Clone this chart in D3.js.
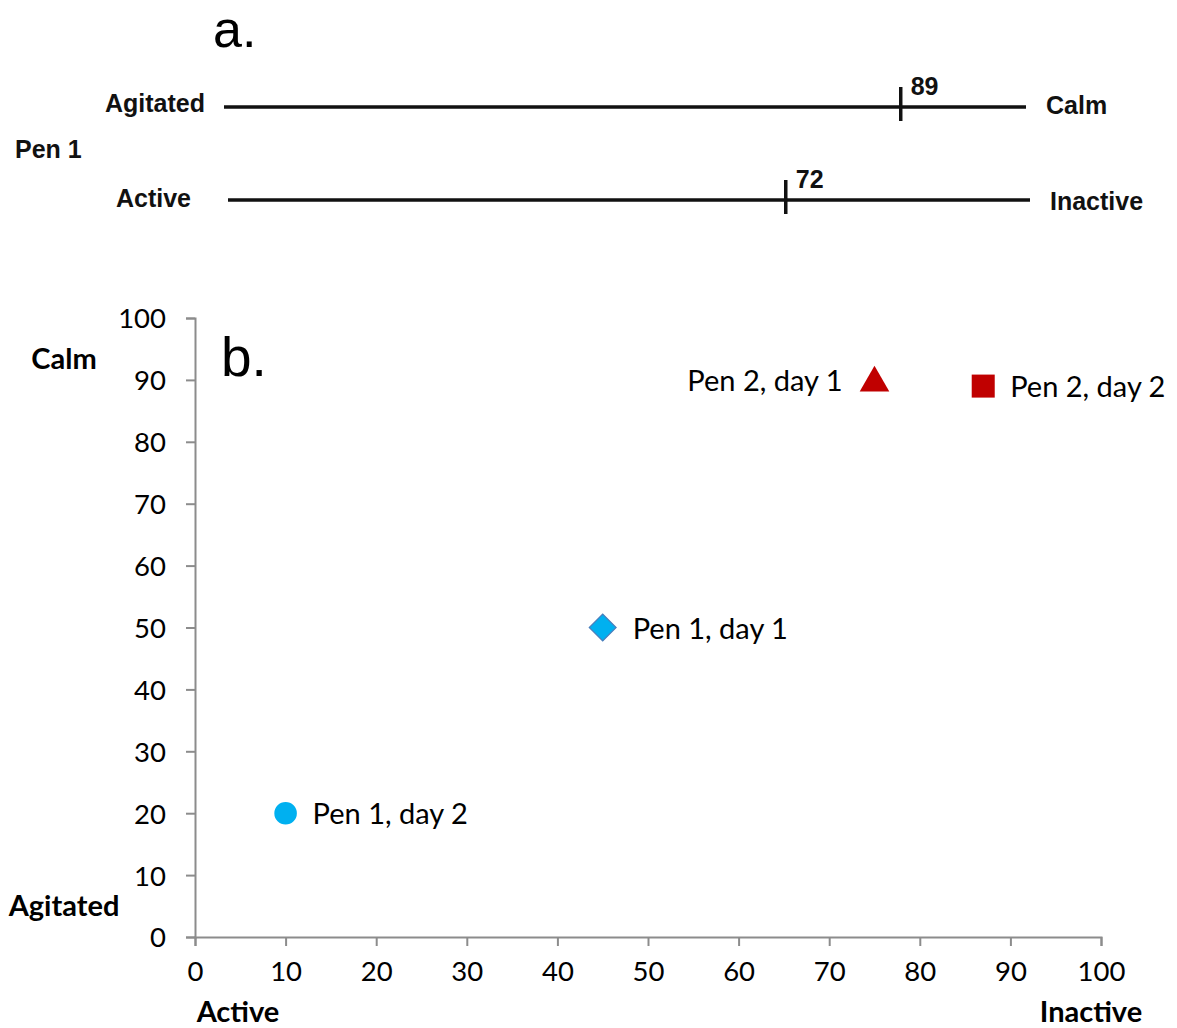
<!DOCTYPE html>
<html>
<head>
<meta charset="utf-8">
<script src="https://cdn.jsdelivr.net/npm/d3@7"></script>
<style>
  html, body { margin: 0; padding: 0; background: #fff; }
  svg { display: block; }
</style>
</head>
<body>
<svg id="chart" width="1177" height="1028"></svg>
<script>
// ---- Panel a data (visual analogue scales, Pen 1) ----
const vasScales = ["Agitated–Calm", "Active–Inactive"];
const vasLeftLabels = ["Agitated", "Active"];
const vasRightLabels = ["Calm", "Inactive"];
const vasValues = [89, 72];
const vasGroupLabel = "Pen 1";

// ---- Panel b data (scatter) ----
const pointNames = ["Pen 1, day 1", "Pen 1, day 2", "Pen 2, day 1", "Pen 2, day 2"];
const pointX = [45, 10, 75, 87];     // Active (0) -> Inactive (100)
const pointY = [50, 20, 90, 89];     // Agitated (0) -> Calm (100)
const pointShapes = ["diamond", "circle", "triangle", "square"];
const pointColors = ["#00B0F0", "#00B0F0", "#C00000", "#C00000"];
const labelSide = ["right", "right", "left", "right"];
const xTicks = [0, 10, 20, 30, 40, 50, 60, 70, 80, 90, 100];
const yTicks = [0, 10, 20, 30, 40, 50, 60, 70, 80, 90, 100];

const svg = d3.select("#chart");

// ================= Panel a =================
const aFont = "'Liberation Sans', Arial, sans-serif";
svg.append("text").attr("x", 213).attr("y", 47)
  .attr("font-family", aFont).attr("font-size", 52).attr("fill", "#000").text("a.");

const lineGeo = [
  { x0: 224, x1: 1026, y: 107 },
  { x0: 228, x1: 1030, y: 200 }
];
const aLabelY = [112, 207];
const aRightY = [114, 210];
const aLabelSize = 25;

svg.append("text").attr("x", 15).attr("y", 158)
  .attr("font-family", aFont).attr("font-weight", "bold").attr("font-size", aLabelSize)
  .attr("fill", "#111").text(vasGroupLabel);

vasScales.forEach((name, i) => {
  const g = lineGeo[i];
  // scale from value to position along the drawn line
  const s = d3.scaleLinear().domain([-7.7, 106.9]).range([g.x0, g.x1]);
  const gg = svg.append("g");
  gg.append("line").attr("x1", s(-7.7)).attr("x2", s(106.9))
    .attr("y1", g.y).attr("y2", g.y)
    .attr("stroke", "#111").attr("stroke-width", 3.5);
  const tx = s(vasValues[i]);
  gg.append("line").attr("x1", tx).attr("x2", tx)
    .attr("y1", g.y - 20).attr("y2", g.y + 14)
    .attr("stroke", "#111").attr("stroke-width", 3.5);
  gg.append("text").attr("x", tx + 10).attr("y", g.y - 12)
    .attr("font-family", aFont).attr("font-weight", "bold").attr("font-size", aLabelSize)
    .attr("fill", "#111").text(vasValues[i]);
  gg.append("text").attr("x", g.x0 - 19 - (i === 1 ? 18 : 0)).attr("y", aLabelY[i])
    .attr("text-anchor", "end")
    .attr("font-family", aFont).attr("font-weight", "bold").attr("font-size", aLabelSize)
    .attr("fill", "#111").text(vasLeftLabels[i]);
  gg.append("text").attr("x", g.x1 + 20).attr("y", aRightY[i])
    .attr("font-family", aFont).attr("font-weight", "bold").attr("font-size", aLabelSize)
    .attr("fill", "#111").text(vasRightLabels[i]);
});

// ================= Panel b =================
const bFont = "Lato, 'Open Sans', sans-serif";
const x = d3.scaleLinear().domain([0, 100]).range([195, 1101]);
const y = d3.scaleLinear().domain([0, 100]).range([937, 318]);
const axisColor = "#8c8c8c";

const xAxis = svg.append("g").attr("transform", `translate(0,${y(0)})`)
  .call(d3.axisBottom(x).tickValues(xTicks).tickSize(9).tickPadding(15));
const yAxis = svg.append("g").attr("transform", `translate(${x(0)},0)`)
  .call(d3.axisLeft(y).tickValues(yTicks).tickSize(9).tickPadding(20));

[xAxis, yAxis].forEach(a => {
  a.select(".domain").attr("stroke", axisColor).attr("stroke-width", 2);
  a.selectAll(".tick line").attr("stroke", axisColor).attr("stroke-width", 2);
  a.selectAll(".tick text").attr("fill", "#000")
    .attr("font-family", bFont).attr("font-size", 27.5);
});
yAxis.selectAll(".tick text").attr("dy", "0.36em");
xAxis.selectAll(".tick text").attr("dy", "0.71em");

svg.append("text").attr("x", 221).attr("y", 376)
  .attr("font-family", aFont).attr("font-size", 55).attr("fill", "#000").text("b.");

const axisLabel = (txt, xx, yy, anchor) =>
  svg.append("text").attr("x", xx).attr("y", yy).attr("text-anchor", anchor)
    .attr("font-family", bFont).attr("font-weight", "bold").attr("font-size", 29)
    .attr("fill", "#000").text(txt);
axisLabel("Calm", 64, 369, "middle");
axisLabel("Agitated", 64, 916, "middle");
axisLabel("Active", 238, 1022, "middle");
axisLabel("Inactive", 1091, 1022, "middle");

const symbolFor = {
  diamond: d3.symbol().type(d3.symbolSquare).size(360),
  circle: d3.symbol().type(d3.symbolCircle).size(400),
  triangle: d3.symbol().type(d3.symbolTriangle).size(380),
  square: d3.symbol().type(d3.symbolSquare).size(530)
};

const pts = pointNames.map((n, i) => ({
  name: n, x: pointX[i], y: pointY[i], shape: pointShapes[i],
  color: pointColors[i], side: labelSide[i]
}));

const pg = svg.append("g").selectAll("g").data(pts).join("g")
  .attr("transform", d => `translate(${x(d.x)},${y(d.y)})`);

pg.append("path")
  .attr("d", d => symbolFor[d.shape]())
  .attr("transform", d => d.shape === "diamond" ? "rotate(45)" : (d.shape === "triangle" ? "translate(0,3)" : null))
  .attr("fill", d => d.color)
  .attr("stroke", d => d.shape === "diamond" ? "#4a7ebb" : "none")
  .attr("stroke-width", 1.2);

pg.append("text")
  .attr("x", d => d.side === "left" ? -32 : (d.shape === "diamond" ? 30 : 27))
  .attr("y", 11)
  .attr("text-anchor", d => d.side === "left" ? "end" : "start")
  .attr("font-family", bFont).attr("font-size", 29).attr("fill", "#000")
  .text(d => d.name);
</script>
</body>
</html>
